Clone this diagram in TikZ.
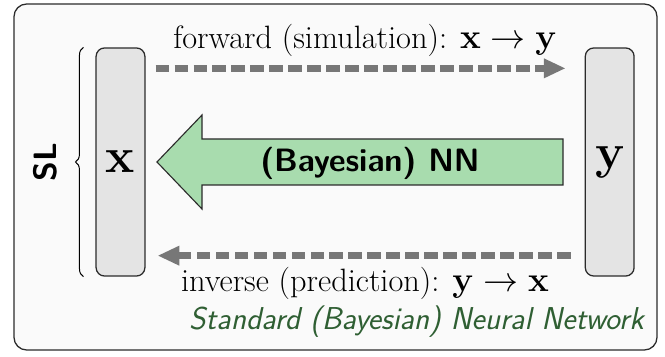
\documentclass[tikz,border=0pt]{standalone}
\usepackage{tikz}
\usepackage{amsmath}
\usetikzlibrary{arrows.meta,positioning,calc,decorations.pathreplacing}
\definecolor{Frame}{HTML}{2B2B2B}
\definecolor{Sheet}{HTML}{FAFAFA}
\definecolor{Slot}{HTML}{E4E4E4}
\definecolor{Flow}{HTML}{777777}
\definecolor{Net}{HTML}{A8DCAE}
\definecolor{Title}{HTML}{2F5F33}
\tikzset{
  varbox/.style={draw=Frame, fill=Slot, rounded corners=6pt, line width=0.9pt, minimum width=1.22cm, minimum height=5.7cm, inner sep=0pt, font=\fontsize{35}{40}\selectfont\bfseries},
  flowarrow/.style={-{Triangle[length=15.5pt,width=13pt]}, line width=4.6pt, draw=Flow, dash pattern=on 9.5pt off 4pt},
  flowlabel/.style={font=\fontsize{23}{26}\selectfont, inner sep=0pt},
  netarrow/.style={draw=Frame, fill=Net, line width=0.8pt, line join=miter}
}
\begin{document}
\begin{tikzpicture}[x=0.025cm,y=0.025cm]
  \useasboundingbox (0,0) rectangle (665,356);
  \draw[draw=Frame, fill=Sheet, rounded corners=9pt, line width=0.9pt] (14,6) rectangle (657,352);

  \node[varbox] (xbox) at (120.5,194) {x};
  \node[varbox, right=10.975cm of xbox] (ybox) {y};

  % supervised learning brace
  \draw[decorate, decoration={brace, amplitude=0.2cm}, line width=0.7pt] (xbox.south west) ++(-0.3cm,0) coordinate (bb) -- (bb |- xbox.north) coordinate (bt);
  \node[rotate=90, font=\fontsize{23}{26}\selectfont\sffamily\bfseries, inner sep=0pt] (sl) at ($(bb)!0.5!(bt)+(-0.95cm,0)$) {SL};

  % dashed flows
  \draw[flowarrow] ([xshift=0.25cm,yshift=-0.525cm]xbox.north east) -- ([xshift=-0.475cm,yshift=-0.525cm]ybox.north west);
  \draw[flowarrow] ([xshift=-0.35cm,yshift=0.525cm]ybox.south west) -- ([xshift=0.3cm,yshift=0.525cm]xbox.south east);
  \node[flowlabel] (fwd) at (365,316) {forward (simulation): $\mathbf{x}\to\mathbf{y}$};
  \node[flowlabel] (inv) at (365,73) {inverse (prediction): $\mathbf{y}\to\mathbf{x}$};

  % network arrow
  \draw[netarrow] (157,194) -- (202,241) -- (202,217) -- (563,217) -- (563,171) -- (202,171) -- (202,147) -- cycle;
  \node[font=\fontsize{23}{26}\selectfont\sffamily\bfseries, inner sep=0pt] (nn) at (370,193) {(Bayesian) NN};

  \node[anchor=east, text=Title, font=\fontsize{22.5}{26}\selectfont\sffamily\itshape, inner sep=0pt] (title) at (644,34) {Standard (Bayesian) Neural Network};
\end{tikzpicture}
\end{document}
